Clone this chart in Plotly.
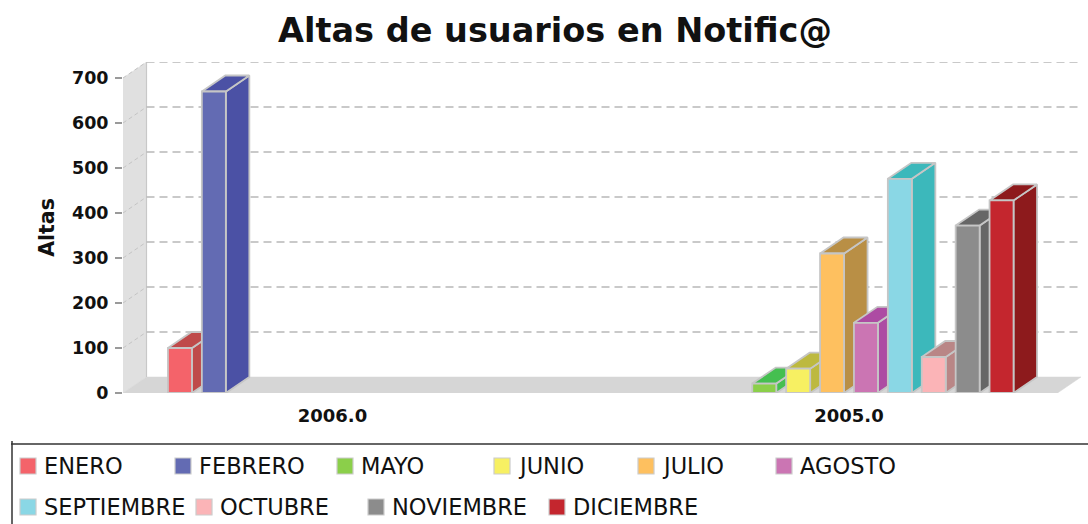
import plotly.graph_objects as go

categories = ["2006.0", "2005.0"]
months = ["ENERO", "FEBRERO", "MAYO", "JUNIO", "JULIO", "AGOSTO",
          "SEPTIEMBRE", "OCTUBRE", "NOVIEMBRE", "DICIEMBRE"]
values_2006 = [100, 670, None, None, None, None, None, None, None, None]
values_2005 = [None, None, 21, 54, 310, 156, 476, 80, 372, 428]
ticks = [0, 100, 200, 300, 400, 500, 600, 700]

front_colors = ["#f4636a", "#636bb3", "#8bcf4a", "#f7f062", "#fec05f",
                "#cb75b3", "#8ad7e5", "#fbb4b7", "#8c8c8c", "#c4262e"]
side_colors = ["#bf4a4a", "#4b51a5", "#45bf50", "#bdb93f", "#b98f45",
               "#ad4ba3", "#3cb8bb", "#b98686", "#666666", "#8d1a1c"]

W, H = 1088, 524
LEFT, RIGHT_BACK = 123, 1081      # pixel extent of the plot box
BASE, TOP_BACK = 393, 62
PX_PER_UNIT = 0.45                # y pixels per value
PX_PER_CAT = 516.5                # x pixels per category
CAT0_PX = 332.5
SLOT = 33.9 / PX_PER_CAT
BAR_W = 24 / PX_PER_CAT
DX = 23.5 / PX_PER_CAT            # depth offset in axis units
DY = 16 / PX_PER_UNIT
EDGE = "#c6c6c6"

x0 = (LEFT - CAT0_PX) / PX_PER_CAT
x1 = (RIGHT_BACK - CAT0_PX) / PX_PER_CAT
x_front_end = x1 - DX
y1 = (BASE - TOP_BACK) / PX_PER_UNIT

fig = go.Figure()


def poly(xs, ys, fill, line=EDGE, width=1.8, name=""):
    fig.add_trace(go.Scatter(x=xs + xs[:1], y=ys + ys[:1], mode="lines", fill="toself",
                             fillcolor=fill, line=dict(color=line, width=width),
                             name=name, showlegend=False, hoverinfo="skip" if not name else "name"))


# walls and floor
poly([x0, x0 + DX, x0 + DX, x0], [0, DY, y1, y1 - DY], "#e0e0e0", "#e0e0e0", 0.5)
poly([x0, x0 + DX, x1, x_front_end], [0, DY, DY, 0], "#d6d6d6", "#d6d6d6", 0.5)
fig.add_trace(go.Scatter(x=[x0 + DX, x0 + DX], y=[DY, y1], mode="lines",
                         line=dict(color="#c8c8c8", width=1.2), showlegend=False, hoverinfo="skip"))

# gridlines on back wall, and their slanted part on the side wall
for t in ticks[1:]:
    fig.add_trace(go.Scatter(x=[x0 + DX, x1], y=[t + DY, t + DY], mode="lines",
                             line=dict(color="#b8b8b8", width=1.3, dash="8px 5px"),
                             showlegend=False, hoverinfo="skip"))
    fig.add_trace(go.Scatter(x=[x0, x0 + DX], y=[t, t + DY], mode="lines",
                             line=dict(color="#c4c4c4", width=1, dash="4px 3px"),
                             showlegend=False, hoverinfo="skip"))

# bars, painted left to right
for c, vals in enumerate([values_2006, values_2005]):
    for i, v in enumerate(vals):
        if v is None:
            continue
        left = c + (i - 4.5) * SLOT - BAR_W / 2
        right = left + BAR_W
        label = f"{months[i]} {categories[c]}: {v}"
        poly([right, right + DX, right + DX, right], [0, DY, v + DY, v], side_colors[i], name=label)
        poly([left, left + DX, right + DX, right], [v, v + DY, v + DY, v], side_colors[i], name=label)
        poly([left, right, right, left], [0, 0, v, v], front_colors[i], name=label)

# legend frame and entries
shapes = [
    dict(type="line", xref="paper", yref="paper", x0=11 / W, x1=1, y0=1 - 444 / H, y1=1 - 444 / H,
         line=dict(color="#333333", width=1.5)),
    dict(type="line", xref="paper", yref="paper", x0=12 / W, x1=12 / W, y0=0, y1=1 - 441 / H,
         line=dict(color="#333333", width=1.5)),
]
legend_pos = [(20, 466), (175, 466), (337, 466), (494, 466), (638, 466), (776, 466),
              (20, 507), (196, 507), (368, 507), (549, 507)]
annotations = []
for name, col, (lx, ly) in zip(months, front_colors, legend_pos):
    shapes.append(dict(type="rect", xref="paper", yref="paper",
                       x0=lx / W, x1=(lx + 16) / W, y0=1 - (ly + 8) / H, y1=1 - (ly - 8) / H,
                       fillcolor=col, line=dict(color="#cccccc", width=1.2)))
    annotations.append(dict(text=name, xref="paper", yref="paper", x=(lx + 24) / W, y=1 - ly / H,
                            xanchor="left", yanchor="middle", showarrow=False,
                            xshift=-2,
                            font=dict(family="DejaVu Sans", size=22.5, color="#111111")))

fig.update_layout(
    width=W, height=H, margin=dict(l=0, r=0, t=0, b=0, autoexpand=False),
    paper_bgcolor="white", plot_bgcolor="white", showlegend=False,
    title=dict(text="Altas de usuarios en Notific@", x=555 / W, xanchor="center", xref="paper",
               y=1 - 30 / H, yanchor="middle",
               font=dict(family="DejaVu Sans", size=33.5, weight="bold", color="#111111")),
    xaxis=dict(domain=[LEFT / W, RIGHT_BACK / W], range=[x0, x1], tickvals=[0, 1], ticktext=categories,
               showgrid=False, zeroline=False, showline=False, ticks="", ticklabelstandoff=10,
               tickfont=dict(family="DejaVu Sans", size=18, weight="bold", color="#111111")),
    yaxis=dict(domain=[1 - BASE / H, 1 - TOP_BACK / H], range=[0, y1], tickvals=ticks,
               showgrid=False, zeroline=False, showline=False, ticks="outside", ticklen=7,
               tickwidth=1.5, tickcolor="#9a9a9a", ticklabelstandoff=3,
               tickfont=dict(family="DejaVu Sans", size=17.5, weight="bold", color="#111111"),
               title=dict(text="Altas", standoff=11,
                          font=dict(family="DejaVu Sans", size=20.5, weight="bold", color="#111111"))),
    shapes=shapes, annotations=annotations,
)

fig.write_html("out.html", config={"displayModeBar": False},
               post_script="document.body.style.margin='0';document.body.style.overflow='hidden';")
